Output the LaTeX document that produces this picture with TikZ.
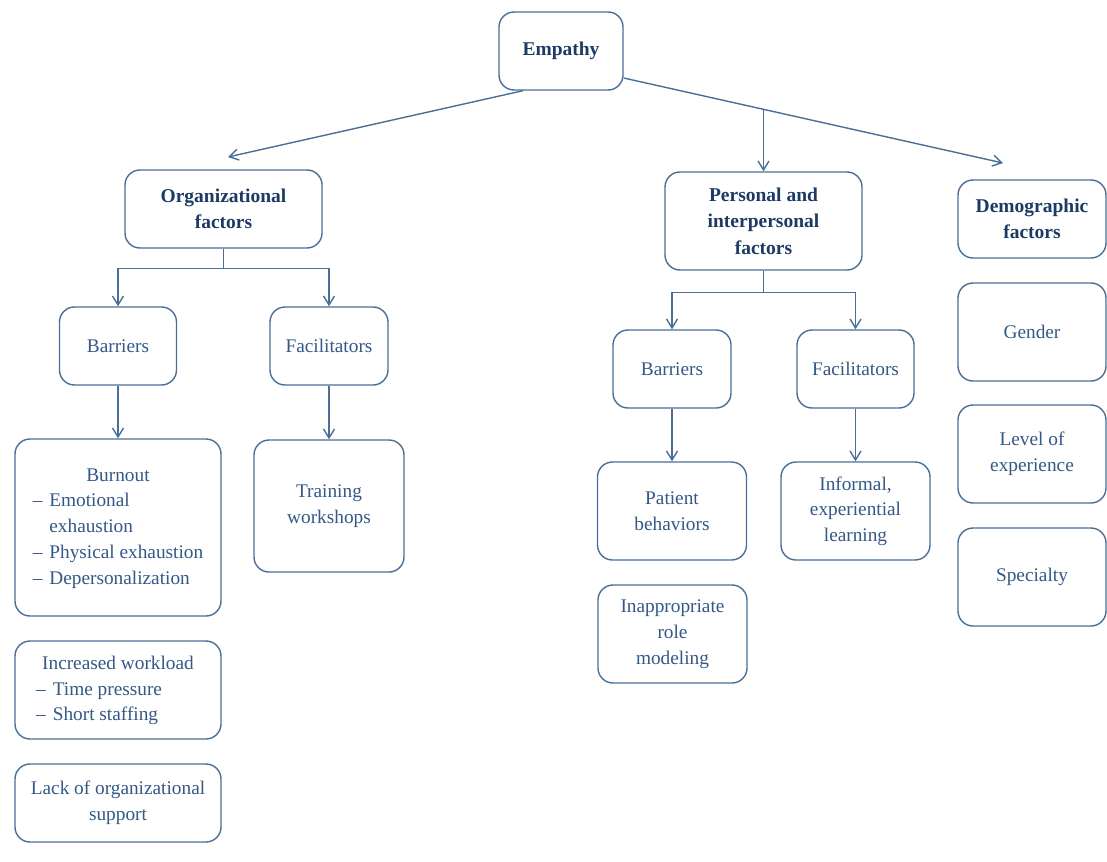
\documentclass[tikz,border=0pt]{standalone}
\usepackage{fontspec}
\setmainfont{Liberation Serif}
\usetikzlibrary{arrows.meta,positioning}
\definecolor{boxblue}{RGB}{74,111,150}
\definecolor{txtblue}{RGB}{52,88,135}
\definecolor{headblue}{RGB}{28,58,100}

\begin{document}
\begin{tikzpicture}[x=1pt,y=-1pt,
	box/.style={draw=boxblue,line width=1.4pt,rounded corners=15pt,fill=white,align=center,inner sep=0pt,text=txtblue,font=\fontsize{19.3}{25.7}\selectfont},
	head/.style={box,text=headblue,font=\fontsize{19.5}{26.5}\selectfont\bfseries},
	sz/.style 2 args={minimum width=#1pt,minimum height=#2pt},
	arr/.style={draw=boxblue,line width=1.4pt,-{Straight Barb[length=9pt,width=11pt]}},
	link/.style={draw=boxblue,line width=1.4pt}]
	\useasboundingbox (0,0) rectangle (1107,861);

	% top level
	\node[head,sz={124}{78}] (emp) at (561,51) {Empathy};
	\node[head,sz={197}{78}] (org) at (223.5,209) {Organizational\\factors};
	\node[head,sz={197}{98}] (pers) at (763.5,221) {Personal and\\interpersonal\\factors};
	\node[head,sz={148}{78}] (demo) at (1032,219) {Demographic\\factors};

	% demographic factors
	\node[box,sz={148}{98}] (gen) at (1032,332) {Gender};
	\node[box,sz={148}{98}] (lev) at (1032,454) {Level of\\experience};
	\node[box,sz={148}{98}] (spec) at (1032,577) {Specialty};

	% organizational factors
	\node[box,sz={117}{78}] (obar) at (118,346) {Barriers};
	\node[box,sz={118}{78}] (ofac) at (329,346) {Facilitators};
	\node[box,sz={206}{177}] (burn) at (118,527.5) {\begin{tabular}{@{}l@{\hspace{7pt}}l@{}}
		\multicolumn{2}{c}{Burnout}\\
		--&Emotional\\
		&exhaustion\\
		--&Physical exhaustion\\
		--&Depersonalization
	\end{tabular}};
	\node[box,sz={150}{132}] (train) at (329,506) {Training\\workshops};
	\node[box,sz={206}{98}] (work) at (118,690) {\begin{tabular}{@{}l@{\hspace{7pt}}l@{}}
		\multicolumn{2}{c}{Increased workload}\\
		--&Time pressure\\
		--&Short staffing
	\end{tabular}};
	\node[box,sz={206}{78}] (lack) at (118,803) {Lack of organizational\\support};

	% personal and interpersonal factors
	\node[box,sz={118}{78}] (pbar) at (672,369) {Barriers};
	\node[box,sz={117}{78}] (pfac) at (855.5,369) {Facilitators};
	\node[box,sz={149}{98}] (pat) at (672,511) {Patient\\behaviors};
	\node[box,sz={149}{98}] (inf) at (855.5,511) {Informal,\\experiential\\learning};
	\node[box,sz={149}{98}] (role) at (672.5,634) {Inappropriate\\role\\modeling};

	% connectors from the top
	\coordinate (orgtip) at (228,157);
	\coordinate (demotip) at (1003,163);
	\coordinate (split) at (763.5,109.4);
	\draw[arr] ([xshift=-38pt]emp.south) -- (orgtip);
	\draw[arr] ([yshift=-27pt]emp.east) -- (demotip);
	\draw[arr] (split) -- (pers.north);

	% branches
	\draw[link] (org.south) -- ++(0,20) coordinate (osplit);
	\draw[arr] (osplit) -| (obar.north);
	\draw[arr] (osplit) -| (ofac.north);
	\draw[link] (pers.south) -- ++(0,22) coordinate (psplit);
	\draw[arr] (psplit) -| (pbar.north);
	\draw[arr] (psplit) -| (pfac.north);

	\draw[arr] (obar) -- (burn);
	\draw[arr] (ofac) -- (train);
	\draw[arr] (pbar) -- (pat);
	\draw[arr] (pfac) -- (inf);
\end{tikzpicture}
\end{document}
